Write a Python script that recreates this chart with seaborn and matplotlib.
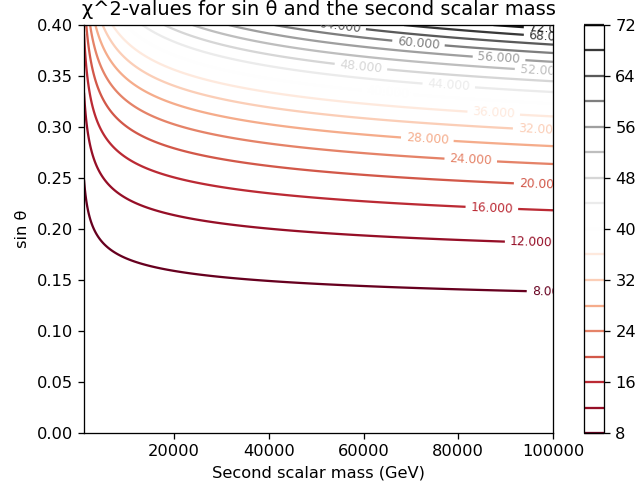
import numpy as np
import matplotlib
matplotlib.use("Agg")
import matplotlib.pyplot as plt
import seaborn as sns

# ---- data ------------------------------------------------------------------
mass_range = [1000, 100000]          # GeV, x-axis extent
sin_range = [0.0, 0.4]               # y-axis extent
chi2_levels = [8, 12, 16, 20, 24, 28, 32, 36, 40, 44, 48, 52, 56, 60, 64, 68, 72]
cbar_ticks = [8, 16, 24, 32, 40, 48, 56, 64, 72]
x_ticks = [20000, 40000, 60000, 80000, 100000]
y_ticks = [0.00, 0.05, 0.10, 0.15, 0.20, 0.25, 0.30, 0.35, 0.40]
# chi^2 surface parameters estimated from contour positions:
# sqrt(chi2) = pull0 + slope * sin^2(theta) * ln(m / m_h)
pull0 = 2.04
slope = 6.15
m_h = 125.0

# where the inline contour labels sit (mass, sin theta)
label_spots = [
    (99200, 0.138), (95400, 0.188), (87100, 0.2216), (97300, 0.245),
    (82650, 0.2686), (73500, 0.290), (97100, 0.299), (87500, 0.3147),
    (65000, 0.330), (78000, 0.341), (59500, 0.361), (97500, 0.356),
    (88600, 0.3667), (71600, 0.382), (55000, 0.3993), (99400, 0.389),
    (99400, 0.3975),
]

mass = np.linspace(mass_range[0], mass_range[1], 600)
sin_t = np.linspace(sin_range[0], sin_range[1], 600)
M, S = np.meshgrid(mass, sin_t)
chi2 = (pull0 + slope * S**2 * np.log(M / m_h)) ** 2

# ---- plot -------------------------------------------------------------------
sns.set_style("white")
plt.rcParams.update({
    "axes.edgecolor": "black",
    "xtick.bottom": True, "ytick.left": True,
    "xtick.color": "black", "ytick.color": "black",
    "axes.labelcolor": "black", "text.color": "black",
    "font.size": 10, "axes.titlesize": 12, "axes.labelsize": 10,
    "xtick.labelsize": 10, "ytick.labelsize": 10,
    "xtick.direction": "out", "ytick.direction": "out",
    "xtick.major.size": 3.5, "ytick.major.size": 3.5,
    "xtick.major.width": 0.8, "ytick.major.width": 0.8,
    "axes.linewidth": 0.8,
})
plt.rcParams["font.family"] = ["DejaVu Sans"]

cmap = sns.color_palette("RdGy", as_cmap=True)

dpi = 117
fig = plt.figure(figsize=(635 / dpi, 484 / dpi), dpi=dpi)
ax = fig.add_axes([84 / 635, 51 / 484, (553 - 84) / 635, (433 - 25) / 484])
cax = fig.add_axes([583.5 / 635, 51 / 484, 20.5 / 635, (433 - 25) / 484])

cs = ax.contour(M, S, chi2, levels=chi2_levels, cmap=cmap, linewidths=1.4)
ax.clabel(cs, inline=True, fontsize=7.5, fmt="%.3f", manual=label_spots)

ax.set_xlim(mass_range)
ax.set_ylim(sin_range)
ax.set_xticks(x_ticks)
ax.set_yticks(y_ticks)
ax.set_xlabel("Second scalar mass (GeV)")
ax.set_ylabel("sin θ")
ax.set_title("χ^2-values for sin θ and the second scalar mass")

cb = fig.colorbar(cs, cax=cax)
cb.set_ticks(cbar_ticks)

fig.savefig("out.png", dpi=dpi)
